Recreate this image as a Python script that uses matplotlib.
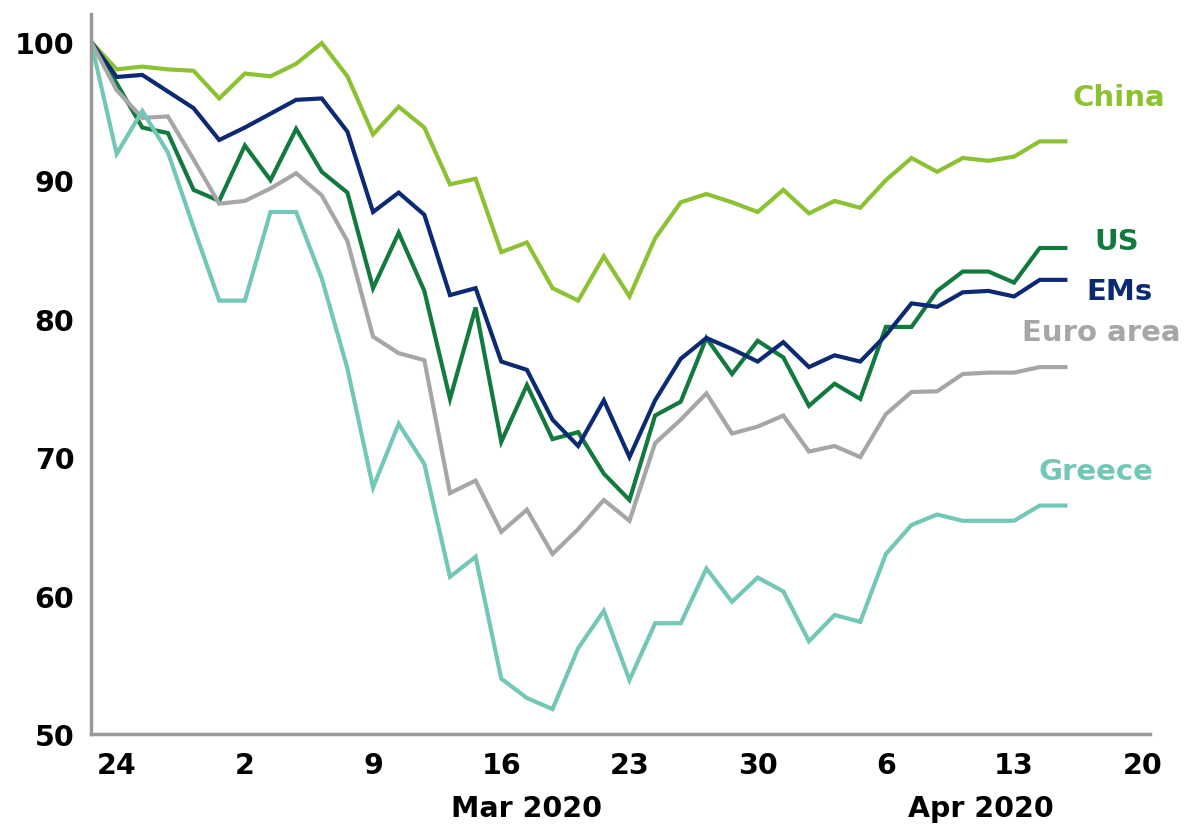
import numpy as np
import pandas as pd
import matplotlib
matplotlib.use("Agg")
import matplotlib.pyplot as plt
import matplotlib.transforms as mtransforms

# business days, Fri 21 Feb 2020 = 100
dates = pd.bdate_range("2020-02-21", "2020-04-15")

china = [100, 98.0, 98.2, 98.0, 97.9, 95.9, 97.7, 97.5, 98.4, 99.9,
         97.5, 93.3, 95.3, 93.8, 89.7, 90.1, 84.8, 85.5, 82.2, 81.3,
         84.5, 81.6, 85.8, 88.4, 89.0, 88.4, 87.7, 89.3, 87.6, 88.5,
         88.0, 90.0, 91.6, 90.6, 91.6, 91.4, 91.7, 92.8, 92.8]
us = [100, 97.0, 93.8, 93.4, 89.3, 88.5, 92.5, 90.0, 93.7, 90.6,
      89.1, 82.2, 86.2, 82.0, 74.2, 80.8, 71.1, 75.2, 71.3, 71.8,
      68.8, 66.9, 73.0, 74.0, 78.6, 76.0, 78.4, 77.2, 73.7, 75.3,
      74.2, 79.4, 79.4, 82.0, 83.4, 83.4, 82.6, 85.1, 85.1]
ems = [100, 97.45, 97.6, 96.4, 95.2, 92.9, 93.8, 94.8, 95.8, 95.9,
       93.5, 87.7, 89.1, 87.5, 81.7, 82.2, 76.9, 76.3, 72.7, 70.8,
       74.1, 70.0, 74.1, 77.1, 78.6, 77.8, 76.9, 78.3, 76.5, 77.35,
       76.9, 78.8, 81.1, 80.85, 81.9, 82.0, 81.6, 82.8, 82.8]
euro = [100, 96.5, 94.5, 94.6, 91.5, 88.3, 88.5, 89.4, 90.5, 88.9,
        85.6, 78.7, 77.5, 77.0, 67.4, 68.3, 64.6, 66.2, 63.0, 64.8,
        66.9, 65.4, 71.0, 72.7, 74.6, 71.7, 72.2, 73.0, 70.4, 70.8,
        70.0, 73.1, 74.7, 74.75, 76.0, 76.1, 76.1, 76.5, 76.5]
greece = [100, 91.9, 95.0, 92.0, 86.6, 81.3, 81.3, 87.7, 87.7, 82.9,
          76.4, 67.8, 72.4, 69.5, 61.35, 62.8, 54.0, 52.6, 51.8, 56.2,
          58.9, 53.9, 58.0, 58.0, 61.95, 59.55, 61.3, 60.3, 56.7, 58.6,
          58.1, 63.0, 65.1, 65.85, 65.4, 65.4, 65.4, 66.5, 66.5]

names = ["China", "US", "EMs", "Euro area", "Greece"]
colors = ["#8cc132", "#137a3f", "#0b2a73", "#a6a6a6", "#72c7b7"]
series = [china, us, ems, euro, greece]

# end-of-line labels (x in index units, y in data units)
label_x = [39.1, 39.0, 39.1, 38.4, 38.2]
label_y = [96.0, 85.6, 82.0, 79.0, 69.0]

xtick_labels = ["24", "2", "9", "16", "23", "30", "6", "13", "20"]
months = ["Mar 2020", "Apr 2020"]
month_x = [16.0, 33.7]

fig = plt.figure(figsize=(11.88, 8.28), dpi=100)
ax = fig.add_axes([0.0766, 0.1123, 0.8914, 0.8696])

x = np.arange(len(dates)) - 1
for vals, col in zip(series, colors):
    ax.plot(x, vals, color=col, lw=3, solid_joinstyle="miter")

for name, col, lx, ly in zip(names, colors, label_x, label_y):
    ax.text(lx, ly, name, color=col, fontsize=21, fontweight="bold",
            ha="center", va="center")

ax.set_xlim(-1, 40.3)
ax.set_ylim(50, 102)
ax.set_yticks([50, 60, 70, 80, 90, 100])
ax.set_xticks(np.arange(0, 41, 5))
ax.set_xticklabels(xtick_labels)
ax.tick_params(length=0, labelsize=20.5, pad=12)
for lab in ax.get_xticklabels() + ax.get_yticklabels():
    lab.set_fontweight("bold")

trans = mtransforms.blended_transform_factory(ax.transData, ax.transAxes)
for m, mx in zip(months, month_x):
    ax.text(mx, -0.103, m, transform=trans, fontsize=20.5, fontweight="bold",
            ha="center", va="center")

for s in ["top", "right"]:
    ax.spines[s].set_visible(False)
for s in ["left", "bottom"]:
    ax.spines[s].set_color("#999999")
    ax.spines[s].set_linewidth(2.5)

fig.savefig("out.png", dpi=100)
